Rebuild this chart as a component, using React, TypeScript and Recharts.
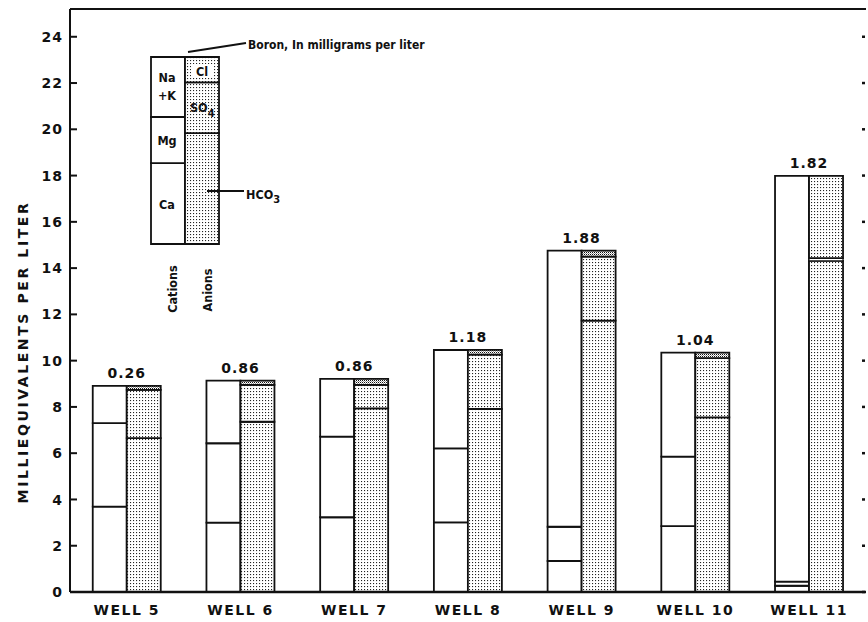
import { Bar, BarChart, LabelList, ReferenceLine, XAxis, YAxis } from "recharts";

const wells = ["WELL 5", "WELL 6", "WELL 7", "WELL 8", "WELL 9", "WELL 10", "WELL 11"];
const boron = [0.26, 0.86, 0.86, 1.18, 1.88, 1.04, 1.82];

// cations, meq/L
const ca = [3.69, 3.0, 3.23, 3.01, 1.34, 2.85, 0.27];
const mg = [3.61, 3.43, 3.49, 3.2, 1.48, 3.0, 0.18];
const naK = [1.61, 2.71, 2.49, 4.25, 11.94, 4.5, 17.54];

// anions, meq/L
const hco3 = [6.65, 7.36, 7.94, 7.91, 11.73, 7.55, 14.31];
const no3 = [0, 0, 0, 0, 0, 0, 0.12];
const so4 = [2.09, 1.59, 1.01, 2.35, 2.77, 2.56, 3.56];
const cl = [0.17, 0.19, 0.26, 0.21, 0.26, 0.24, 0];

const yTicks = [0, 2, 4, 6, 8, 10, 12, 14, 16, 18, 20, 22, 24];

// schematic explanation bar
const legendCations = { ca: 3.5, mg: 2.0, naK: 2.6 };
const legendAnions = { hco3: 4.8, so4: 2.2, cl: 1.1 };

const data = wells.map((well, i) => ({
  well,
  boron: boron[i].toFixed(2),
  ca: ca[i],
  mg: mg[i],
  naK: naK[i],
  hco3: hco3[i],
  no3: no3[i],
  so4: so4[i],
  cl: cl[i],
}));

const legendData = [{ ...legendCations, ...legendAnions }];

const FONT = "'DejaVu Sans', sans-serif";
const NARROW = "'DejaVu Sans Condensed', 'Liberation Sans Narrow', 'DejaVu Sans', sans-serif";
const STROKE = 1.8;
const PLOT_W = 796;

function Patterns() {
  return (
    <defs>
      <pattern id="dots" width="3" height="3" patternUnits="userSpaceOnUse">
        <rect width="3" height="3" fill="#fff" />
        <rect x="1" y="1" width="1.1" height="1.1" fill="#222" />
      </pattern>
      <pattern id="dense" width="2" height="2" patternUnits="userSpaceOnUse">
        <rect width="2" height="2" fill="#fff" />
        <rect x="0" y="0" width="1" height="1" fill="#111" />
        <rect x="1" y="1" width="1" height="0.6" fill="#555" />
      </pattern>
    </defs>
  );
}

// label left of the axis, short inward tick, and the faint tick on the right edge
function LeftTick(props: any) {
  const { x, y, payload } = props;
  const axisX = x + 7;
  return (
    <g>
      <text x={x} y={y} dy="0.36em" textAnchor="end" fontFamily={FONT} fontWeight="bold" fontSize={14} letterSpacing={1} fill="#111">
        {payload.value}
      </text>
      <line x1={axisX} x2={axisX + 7} y1={y} y2={y} stroke="#111" strokeWidth={2} />
      <line x1={axisX + PLOT_W - 4} x2={axisX + PLOT_W - 1} y1={y} y2={y} stroke="#111" strokeWidth={2.5} />
    </g>
  );
}

function BoronLabel(props: any) {
  const { x, y, width, value } = props;
  return (
    <text x={x + width} y={y - 8} textAnchor="middle" fontFamily={FONT} fontWeight="bold" fontSize={14} letterSpacing={1} fill="#111">
      {value}
    </text>
  );
}

export default function App() {
  return (
    <div style={{ position: "relative", width: 868, height: 622, background: "#fff" }}>
      <style>{`body{margin:0;background:#fff}`}</style>
      <BarChart
        width={868}
        height={622}
        data={data}
        margin={{ top: 9, right: 2, bottom: 0, left: 0 }}
        barCategoryGap="20%"
        barGap={0}
      >
        <Patterns />
        <XAxis
          dataKey="well"
          axisLine={{ stroke: "#111", strokeWidth: 2.5 }}
          tickLine={false}
          tickSize={0}
          tickMargin={13}
          height={30}
          tick={{ fontFamily: FONT, fontWeight: "bold", fontSize: 14, fill: "#111", letterSpacing: 1.5 }}
        />
        <YAxis
          domain={[0, 25.2]}
          ticks={yTicks}
          width={70}
          axisLine={{ stroke: "#111", strokeWidth: 2 }}
          tickLine={false}
          tickSize={0}
          tickMargin={7}
          tick={<LeftTick />}
          interval={0}
        />
        <ReferenceLine y={25.2} stroke="#111" strokeWidth={2} />

        <Bar dataKey="ca" stackId="c" fill="#fff" stroke="#111" strokeWidth={STROKE} isAnimationActive={false} />
        <Bar dataKey="mg" stackId="c" fill="#fff" stroke="#111" strokeWidth={STROKE} isAnimationActive={false} />
        <Bar dataKey="naK" stackId="c" fill="#fff" stroke="#111" strokeWidth={STROKE} isAnimationActive={false}>
          <LabelList dataKey="boron" content={<BoronLabel />} />
        </Bar>

        <Bar dataKey="hco3" stackId="a" fill="url(#dots)" stroke="#111" strokeWidth={STROKE} isAnimationActive={false} />
        <Bar dataKey="no3" stackId="a" fill="#fff" stroke="#111" strokeWidth={1.2} isAnimationActive={false} />
        <Bar dataKey="so4" stackId="a" fill="url(#dots)" stroke="#111" strokeWidth={STROKE} isAnimationActive={false} />
        <Bar dataKey="cl" stackId="a" fill="url(#dense)" stroke="#111" strokeWidth={STROKE} isAnimationActive={false} />
      </BarChart>

      <div style={{ position: "absolute", left: 150, top: 56, width: 70, height: 189 }}>
        <BarChart width={70} height={189} data={legendData} margin={{ top: 1, right: 1, bottom: 1, left: 1 }} barCategoryGap={0} barGap={0}>
          <Patterns />
          <XAxis hide />
          <YAxis hide domain={[0, 8.1]} />
          <Bar dataKey="ca" stackId="c" fill="#fff" stroke="#111" strokeWidth={STROKE} isAnimationActive={false} />
          <Bar dataKey="mg" stackId="c" fill="#fff" stroke="#111" strokeWidth={STROKE} isAnimationActive={false} />
          <Bar dataKey="naK" stackId="c" fill="#fff" stroke="#111" strokeWidth={STROKE} isAnimationActive={false} />
          <Bar dataKey="hco3" stackId="a" fill="url(#dots)" stroke="#111" strokeWidth={STROKE} isAnimationActive={false} />
          <Bar dataKey="so4" stackId="a" fill="url(#dots)" stroke="#111" strokeWidth={STROKE} isAnimationActive={false} />
          <Bar dataKey="cl" stackId="a" fill="url(#dots)" stroke="#111" strokeWidth={STROKE} isAnimationActive={false} />
        </BarChart>
      </div>

      <svg width={868} height={622} style={{ position: "absolute", left: 0, top: 0, pointerEvents: "none" }}>
        <g fontFamily={FONT} fontWeight="bold" fill="#111">
          <text x={28} y={352} fontSize={14} letterSpacing={2.6} textAnchor="middle" transform="rotate(-90 28 352)">
            MILLIEQUIVALENTS PER LITER
          </text>
        </g>
        <g fontFamily={NARROW} fontWeight="bold" fill="#111" fontSize={12.5}>
          <text x={167} y={82} textAnchor="middle">Na</text>
          <text x={167} y={100} textAnchor="middle">+K</text>
          <text x={167} y={145} textAnchor="middle">Mg</text>
          <text x={167} y={209} textAnchor="middle">Ca</text>
          <rect x={191} y={64} width={22} height={14} fill="#fff" />
          <text x={202} y={76} textAnchor="middle">Cl</text>
          <text x={190} y={112}>
            SO<tspan fontSize={11} dy={5}>4</tspan>
          </text>
          <line x1={207} x2={244} y1={191} y2={191} stroke="#111" strokeWidth={1.8} />
          <text x={246} y={199}>
            HCO<tspan fontSize={11} dy={4}>3</tspan>
          </text>
          <line x1={188} x2={246} y1={52} y2={43} stroke="#111" strokeWidth={1.8} />
          <text x={248} y={49} fontSize={12}>Boron, In milligrams per liter</text>
          <text x={177} y={289} textAnchor="middle" transform="rotate(-90 177 289)">Cations</text>
          <text x={212} y={290} textAnchor="middle" transform="rotate(-90 212 290)">Anions</text>
        </g>
      </svg>
    </div>
  );
}
